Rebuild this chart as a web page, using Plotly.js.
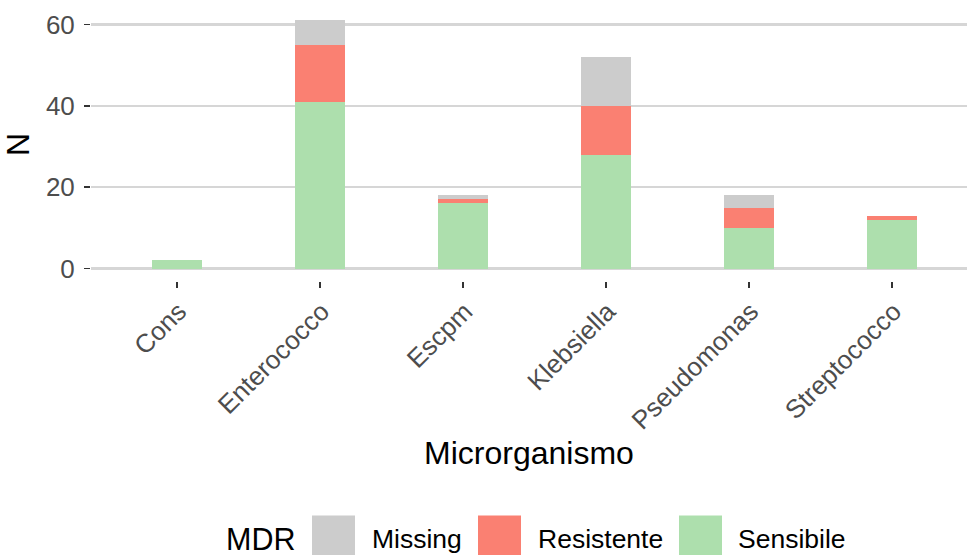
<!DOCTYPE html>
<html>
<head>
<meta charset="utf-8">
<script src="https://cdn.plot.ly/plotly-3.0.1.min.js"></script>
<style>html,body{margin:0;padding:0;background:#fff;}#chart{width:967px;height:555px;}</style>
</head>
<body>
<div id="chart"></div>
<script>
// ---- data ----
const categories = ["Cons", "Enterococco", "Escpm", "Klebsiella", "Pseudomonas", "Streptococco"];
const sensibile  = [2, 41, 16, 28, 10, 12];
const resistente = [0, 14, 1, 12, 5, 1];
const missing    = [0, 6, 1, 12, 3, 0];
const seriesNames = ["Sensibile", "Resistente", "Missing"];
const seriesColors = ["#ADDFAD", "#FA8072", "#CCCCCC"];
const legendTitle = "MDR";
const yTicks = [0, 20, 40, 60];

// ---- layout geometry (pixels) ----
const W = 967, H = 555;
const L = 91, R = 0, T = 7.5, B = 273.9;
const plotW = W - L - R, plotH = H - T - B;
const px2x = px => (px - L) / plotW;
const py2y = py => (H - B - py) / plotH;

const seriesValues = [sensibile, resistente, missing];
const traces = seriesNames.map((name, i) => ({
  type: "bar",
  name: name,
  x: categories,
  y: seriesValues[i],
  width: 0.35,
  marker: {color: seriesColors[i], line: {width: 0}},
  showlegend: false,
  hoverinfo: "x+y+name"
}));

// custom legend (ggplot-like big keys), built from the series arrays
const legendOrder = [2, 1, 0]; // Missing, Resistente, Sensibile
const keyX = [312, 478, 679];
const labelX = [372, 538, 738];
const shapes = [];
const annotations = [{
  text: legendTitle, xref: "paper", yref: "paper",
  x: px2x(224), y: py2y(540), xanchor: "left", yanchor: "middle",
  showarrow: false, font: {family: "Liberation Sans, Arial, sans-serif", size: 30.5, color: "#000"}
}];
legendOrder.forEach((si, k) => {
  shapes.push({
    type: "rect", xref: "paper", yref: "paper",
    x0: px2x(keyX[k]), x1: px2x(keyX[k] + 43),
    y0: py2y(559), y1: py2y(516),
    fillcolor: seriesColors[si], line: {width: 0}, layer: "above"
  });
  annotations.push({
    text: seriesNames[si], xref: "paper", yref: "paper",
    x: px2x(labelX[k] - 2), y: py2y(540), xanchor: "left", yanchor: "middle",
    showarrow: false, font: {family: "Liberation Sans, Arial, sans-serif", size: 26.5, color: "#000"}
  });
});

const layout = {
  width: W, height: H,
  margin: {l: L, r: R, t: T, b: B, pad: 0},
  paper_bgcolor: "#fff", plot_bgcolor: "#fff",
  barmode: "stack",
  bargap: 0,
  showlegend: false,
  font: {family: "Liberation Sans, Arial, sans-serif", color: "#4D4D4D"},
  xaxis: {
    type: "category",
    range: [-0.6, 5.526],
    showgrid: false, zeroline: false, showline: false,
    ticks: "outside", ticklen: 6, tickwidth: 1.5, tickcolor: "#333333",
    tickangle: -45,
    tickfont: {size: 26, color: "#4D4D4D"},
    ticklabelstandoff: -2,
    ticklabelshift: 2,
    automargin: false,
    title: {text: "Microrganismo", font: {size: 32, color: "#000"}, standoff: 6}
  },
  yaxis: {
    range: [-3.05, 64.05],
    tickvals: yTicks,
    ticktext: yTicks.map(String),
    showgrid: true, gridcolor: "#D6D6D6", gridwidth: 2.3,
    zeroline: false, showline: false,
    ticks: "outside", ticklen: 6, tickwidth: 1.5, tickcolor: "#333333",
    tickfont: {size: 26, color: "#4D4D4D"},
    ticklabelstandoff: 4,
    automargin: false,
    title: {text: "N", font: {size: 32, color: "#000"}, standoff: 11}
  },
  shapes: shapes,
  annotations: annotations
};

Plotly.newPlot("chart", traces, layout, {displayModeBar: false, staticPlot: true});
</script>
</body>
</html>
